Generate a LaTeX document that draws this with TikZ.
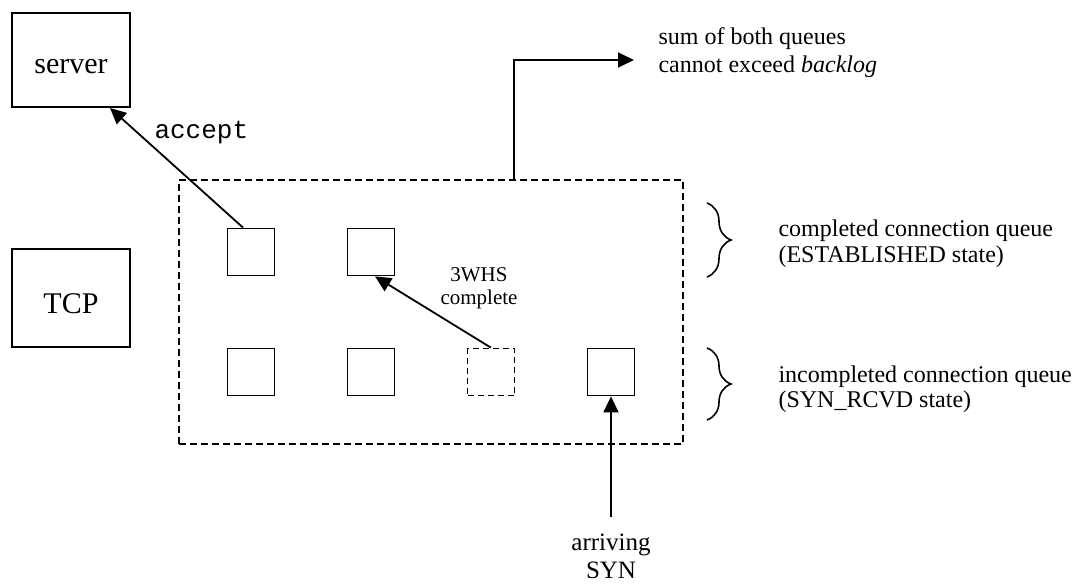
\documentclass[tikz,border=0pt]{standalone}
\usepackage{fontspec}
\setmainfont{Liberation Serif}
\setmonofont{Liberation Mono}
\usetikzlibrary{arrows.meta,decorations.pathreplacing,calc}

\newcommand\bigfont{\fontsize{30}{36}\selectfont}
\newcommand\lblfont{\fontsize{24}{25}\selectfont}
\newcommand\sumfont{\fontsize{24}{28}\selectfont}
\newcommand\smlfont{\fontsize{21}{23}\selectfont}
\newcommand\synfont{\fontsize{25}{28}\selectfont}

\begin{document}
\begin{tikzpicture}[x=1pt,y=-1pt,
  box/.style={draw, line width=2pt, inner sep=0pt, font=\bigfont},
  slot/.style={draw, line width=1.8pt, minimum width=47pt, minimum height=47pt, inner sep=0pt},
  ghost/.style={slot, line width=1.6pt, dash pattern=on 6pt off 4pt},
  frame/.style={draw, line width=1.5pt, dash pattern=on 7pt off 4pt, inner sep=0pt},
  arr/.style={line width=1.8pt, -{Triangle[length=16pt,width=15pt]}},
  curly/.style={line width=1.6pt, decorate, decoration={brace, amplitude=24pt}}
]
\useasboundingbox (0,0) rectangle (1073,585);

% application and kernel boxes
\node[box, minimum width=118pt, minimum height=94pt, text height=28pt, text depth=0pt] (server) at (71,60) {server};
\node[box, minimum width=118pt, minimum height=98pt, text height=30pt, text depth=0pt] (tcp) at (71,298) {TCP};

% listen queues
\node[frame, minimum width=504pt, minimum height=264pt] (queues) at (431,312) {};

\node[slot] (c1) at (251,252) {};
\node[slot] (c2) at (371,252) {};
\node[slot] (i1) at (251,372) {};
\node[slot] (i2) at (371,372) {};
\node[ghost] (i3) at (491,372) {};
\node[slot] (i4) at (611,372) {};

% accept() takes the head of the completed queue
\draw[arr] ([xshift=-8pt]c1.north) -- ([xshift=-21pt]server.south east);
\node[anchor=base west, font=\ttfamily\fontsize{26}{30}\selectfont] (accept) at (151,139) {accept};

% handshake completion moves an entry across
\draw[arr] (i3.north) -- ([xshift=4pt]c2.south);
\node[anchor=base, align=center, font=\smlfont] (whs) at (479,305) {3WHS\\complete};

% new SYN enters the incomplete queue
\coordinate (synfoot) at (611,517);
\draw[arr] (synfoot) -- (i4.south);
\node[anchor=base, align=center, font=\synfont] (syn) at (611,578) {arriving\\SYN};

% backlog limit
\coordinate (limit) at (634,60);
\draw[arr] ([xshift=83pt]queues.north) |- (limit);
\node[anchor=base west, align=left, font=\sumfont] (sum) at (655,73) {sum of both queues\\cannot exceed \textit{backlog}};

% queue braces and captions
\draw[curly] (707,203) -- (707,277);
\draw[curly] (707,348) -- (707,420);
\node[anchor=base west, align=left, font=\lblfont] (estq) at (775,262) {completed connection queue\\(ESTABLISHED state)};
\node[anchor=base west, align=left, font=\lblfont] (synq) at (775,407) {incompleted connection queue\\(SYN\_RCVD state)};
\end{tikzpicture}
\end{document}
